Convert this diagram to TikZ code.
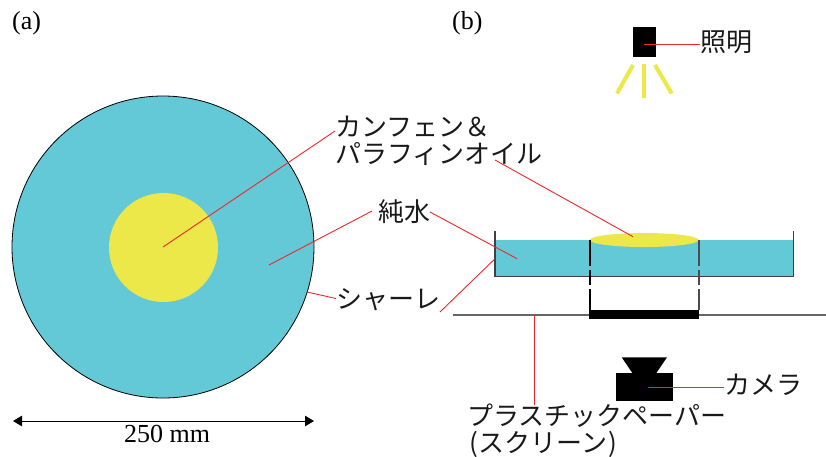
\documentclass[tikz,border=0pt]{standalone}
\usepackage{fontspec}
\setmainfont{Liberation Serif}
\newfontfamily\jpfont{Noto Sans CJK JP}
\usetikzlibrary{arrows.meta,shapes.geometric}
\definecolor{water}{HTML}{64C9D6}
\definecolor{oil}{HTML}{ECE84A}
\definecolor{leader}{HTML}{F0262B}
\tikzset{
  jp/.style={font=\jpfont\fontsize{26}{27}\selectfont,anchor=west,inner sep=0pt,text=black!90,align=left},
  en/.style={font=\fontsize{26}{27}\selectfont,inner sep=0pt},
  lead/.style={draw=leader,line width=0.9pt},
  ray/.style={draw=oil,line width=4pt},
  solid black/.style={fill=black,draw=none},
  wall/.style={draw=black!75,line width=1.4pt}
}
\begin{document}
\begin{tikzpicture}[x=1pt,y=-1pt]
\useasboundingbox (0,0) rectangle (826,456);
% (a)
\node[en,anchor=west] (la) at (12,23) {(a)};
\node[en,anchor=west] (lb) at (452,23) {(b)};
\node[circle,fill=water,draw=black,line width=0.8pt,minimum size=302pt,inner sep=0pt] (dishtop) at (163,247) {};
\node[circle,fill=oil,draw=none,minimum size=109pt,inner sep=0pt] (oiltop) at (163.5,247.5) {};
\coordinate (dimL) at (13,421);
\coordinate (dimR) at (314,421);
\draw[{Triangle[length=9pt,width=10.5pt]}-{Triangle[length=9pt,width=10.5pt]},line width=1pt] (dimL) -- (dimR);
\node[en,anchor=center] (dim) at (167,434) {250 mm};
% (b) dish
\fill[water] (495,240) rectangle (793,276.5);
\node[ellipse,fill=oil,minimum width=109pt,minimum height=14pt,inner sep=0pt,draw=none] (oilside) at (644.2,240) {};
\draw[wall] (495,231) -- (495,276.7) -- (793.7,276.7) -- (793.7,231);
\coordinate (dL1) at (590,240);
\coordinate (dL2) at (590,310);
\coordinate (dR1) at (699,240);
\coordinate (dR2) at (699,310);
\draw[black,line width=1.1pt,dash pattern=on 26pt off 4pt on 15pt off 4pt on 30pt] (dL1) -- (dL2);
\draw[black!70,line width=1.1pt,dash pattern=on 26pt off 4pt on 15pt off 4pt on 30pt] (dR1) -- (dR2);
% screen
\coordinate (scrL) at (453,315);
\coordinate (scrR) at (826,315);
\coordinate (scrT) at (534.7,315);
\draw[black!60,line width=1.2pt] (scrL) -- (scrR);
\node[solid black,minimum width=110pt,minimum height=9.5pt,inner sep=0pt] (block) at (644,314.5) {};
% lamp
\node[solid black,minimum width=22.7pt,minimum height=30.3pt,inner sep=0pt] (lamp) at (644.3,42.2) {};
\draw[ray] (644,64) -- (644,98);
\draw[ray] (633,65) -- (617,93.5);
\draw[ray] (655,65) -- (671.7,93.5);
% camera
\node[solid black,minimum width=57pt,minimum height=28pt,inner sep=0pt] (cam) at (644.2,387) {};
\fill[black] (621.7,357.3) -- (667,357.3) -- (656,373.5) -- (632.7,373.5) -- cycle;
% labels
\node[jp] (lshoumei) at (700,42) {照明};
\node[jp] (lcamera) at (724,385) {カメラ};
\node[jp] (lplastic) at (467,430.5) {プラスチックペーパー\\\hspace*{2pt}(\hspace{1pt}スクリーン\hspace{1pt})};
\node[jp] (lcamphene) at (335,140.5) {カンフェン＆\\パラフィンオイル};
\node[jp] (lwater) at (378,211.5) {純水};
\node[jp] (lshale) at (336,299.5) {シャーレ};
% leaders
\coordinate (cOilTop) at (163,247);
\coordinate (cOilSide) at (633,236.7);
\coordinate (cWaterTop) at (269,265);
\coordinate (cWaterSide) at (517,258.7);
\coordinate (cDishTop) at (307,292);
\coordinate (cDishSide) at (494.7,259);
\coordinate (cCam) at (648,387.7);
\coordinate (cLamp) at (644,44);
\coordinate (eCamA) at (335,131);
\coordinate (eCamB) at (495,160);
\coordinate (eWatA) at (372,211);
\coordinate (eWatB) at (430,212);
\coordinate (eShaA) at (336,298.5);
\coordinate (eShaB) at (440,312);
\coordinate (ePla) at (534.7,405);
\draw[lead] (cOilTop) -- (eCamA);
\draw[lead] (eCamB) -- (cOilSide);
\draw[lead] (cWaterTop) -- (eWatA);
\draw[lead] (eWatB) -- (cWaterSide);
\draw[lead] (cDishTop) -- (eShaA);
\draw[lead] (eShaB) -- (cDishSide);
\draw[lead] (cLamp) -- (lshoumei.west |- cLamp);
\draw[lead] (cCam) -- (lcamera.west |- cCam);
\draw[lead] (scrT) -- (ePla);
\end{tikzpicture}
\end{document}
